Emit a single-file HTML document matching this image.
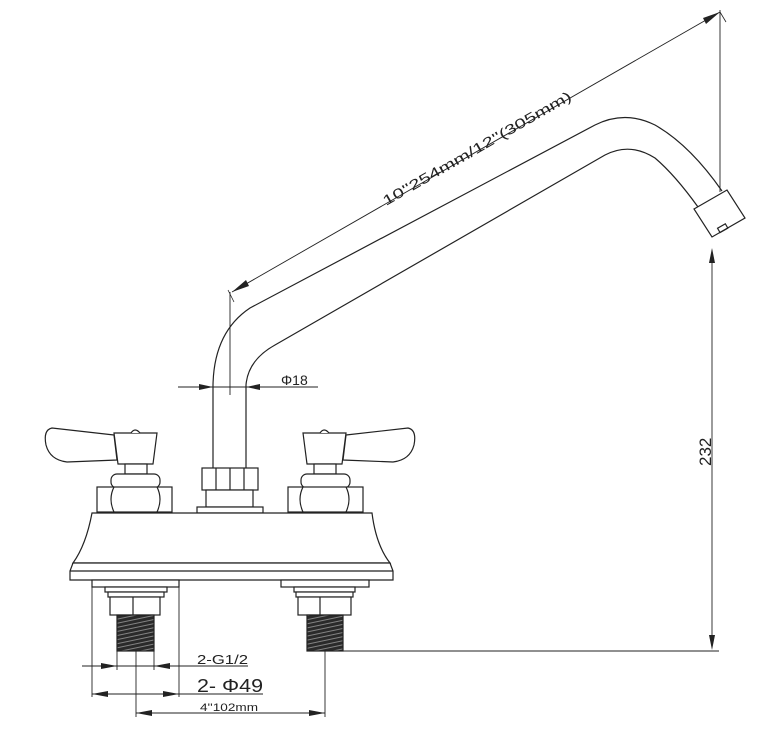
<!DOCTYPE html>
<html><head><meta charset="utf-8"><style>
html,body{margin:0;padding:0;background:#fff;}
svg{display:block;}
text{font-family:"Liberation Sans",sans-serif;fill:#222;}
</style></head><body>
<svg width="781" height="730" viewBox="0 0 781 730" xmlns="http://www.w3.org/2000/svg">
<defs>
<pattern id="th" width="8" height="4" patternUnits="userSpaceOnUse" patternTransform="rotate(-12)">
<rect width="8" height="4" fill="#2a2a2a"/><line x1="0" y1="2" x2="8" y2="2" stroke="#aaa" stroke-width="0.7"/>
</pattern>
</defs>
<g fill="none" stroke="#222" stroke-width="1.2">
<!-- spout -->
<path d="M213,468 L213,385 Q214,332 250,308 L595,125 Q625,110 655,125 Q690,145 722,191"/>
<path d="M246,468 L246,385 Q248,360 275,345 L605,155 Q630,142 655,158 Q675,175 698,207"/>
<!-- nozzle -->
<path d="M694,209 L727,190 L745,218 L712,237 Z" fill="#fff"/>
<rect x="718" y="226" width="9" height="5" transform="rotate(-30 722 228)"/>
<!-- long dim -->
<line x1="232" y1="292" x2="720" y2="12" stroke-width="0.9"/>
<line x1="230" y1="292" x2="230" y2="395" stroke-width="0.9"/>
<line x1="720" y1="10" x2="720" y2="192" stroke-width="0.9"/>
<line x1="228" y1="290" x2="234" y2="302" stroke-width="0.8"/>
<line x1="720" y1="12" x2="726" y2="22" stroke-width="0.8"/>
</g>
<polygon points="232,292 246,280 249,286" fill="#222"/>
<polygon points="720,12 706,24 703,18" fill="#222"/>
<text x="0" y="0" font-size="14" textLength="215" lengthAdjust="spacingAndGlyphs" transform="translate(386,206) rotate(-29.8)">10''254mm/12''(305mm)</text>
<!-- phi18 -->
<g stroke="#222" stroke-width="0.9" fill="none">
<line x1="178" y1="387" x2="318" y2="387"/>
</g>
<polygon points="213,387 199,384 199,390" fill="#222"/>
<polygon points="246,387 260,384 260,390" fill="#222"/>
<text x="281" y="385" font-size="14">Φ18</text>
<!-- 232 dim -->
<g stroke="#222" stroke-width="0.9">
<line x1="712" y1="250" x2="712" y2="647"/>
<line x1="343" y1="651" x2="719" y2="651"/>
</g>
<polygon points="712,248 709,263 715,263" fill="#222"/>
<polygon points="712,650 709,635 715,635" fill="#222"/>
<text font-size="17" transform="translate(711,466) rotate(-90)">232</text>
<g fill="#fff" stroke="#222" stroke-width="1.2">
<!-- left handle -->
<path d="M114,435 L52,428 Q43,430 46,445 Q50,460 67,462 L117,460 Z"/>
<path d="M114,433 L157,433 L153,464 L118,464 Z"/>
<path d="M131,433 Q135,427 140,433"/>
<rect x="125" y="464" width="22" height="10"/>
<rect x="111" y="474" width="49" height="14" rx="6"/>
<rect x="97" y="487" width="75" height="25"/>
<path d="M114,487 Q108,499 114,512 M157,487 Q163,499 157,512"/>
<!-- right handle -->
<path d="M346,435 L408,428 Q417,430 414,445 Q410,460 393,462 L343,460 Z"/>
<path d="M303,433 L346,433 L342,464 L307,464 Z"/>
<path d="M320,433 Q324,427 329,433"/>
<rect x="314" y="464" width="22" height="10"/>
<rect x="301" y="474" width="49" height="14" rx="6"/>
<rect x="288" y="487" width="75" height="25"/>
<path d="M303,487 Q297,499 303,512 M346,487 Q352,499 346,512"/>
<!-- center nut -->
<rect x="202" y="468" width="56" height="22"/>
<path d="M216,468 V490 M230,468 V490 M244,468 V490" fill="none"/>
<rect x="206" y="490" width="47" height="17"/>
<rect x="197" y="507" width="66" height="6"/>
<!-- body -->
<path d="M92,513 L372,513 Q376,545 390,563 L73,563 Q86,545 92,513 Z"/>
<path d="M73,563 L390,563 L393,571 L393,580 L70,580 L70,571 Z"/>
<line x1="70" y1="571" x2="393" y2="571"/>
<!-- under left -->
<rect x="92" y="580" width="87" height="7"/>
<rect x="105" y="587" width="62" height="5"/>
<rect x="108" y="592" width="56" height="5"/>
<rect x="110" y="597" width="50" height="18"/>
<line x1="133" y1="597" x2="133" y2="615"/>
<rect x="117" y="615" width="37" height="36" fill="url(#th)"/>
<!-- under right -->
<rect x="281" y="580" width="88" height="7"/>
<rect x="294" y="587" width="61" height="5"/>
<rect x="296" y="592" width="57" height="5"/>
<rect x="298" y="597" width="53" height="18"/>
<line x1="320" y1="597" x2="320" y2="615"/>
<rect x="307" y="615" width="36" height="36" fill="url(#th)"/>
</g>
<!-- bottom dims -->
<g stroke="#222" stroke-width="0.9">
<line x1="92" y1="580" x2="92" y2="697"/>
<line x1="179" y1="580" x2="179" y2="697"/>
<line x1="117" y1="651" x2="117" y2="670"/>
<line x1="154" y1="651" x2="154" y2="670"/>
<line x1="136" y1="651" x2="136" y2="717"/>
<line x1="325" y1="651" x2="325" y2="717"/>
<line x1="82" y1="666" x2="248" y2="666"/>
<line x1="92" y1="694" x2="263" y2="694"/>
<line x1="136" y1="713" x2="325" y2="713"/>
</g>
<g fill="#222">
<polygon points="117,666 101,663 101,669"/>
<polygon points="154,666 170,663 170,669"/>
<polygon points="92,694 108,691 108,697"/>
<polygon points="179,694 163,691 163,697"/>
<polygon points="136,713 152,710 152,716"/>
<polygon points="325,713 309,710 309,716"/>
</g>
<text x="197" y="664" font-size="13" textLength="51" lengthAdjust="spacingAndGlyphs">2-G1/2</text>
<text x="197" y="692" font-size="18" textLength="66" lengthAdjust="spacingAndGlyphs">2- Φ49</text>
<text x="200" y="711" font-size="11" textLength="58" lengthAdjust="spacingAndGlyphs">4''102mm</text>
</svg>
</body></html>
